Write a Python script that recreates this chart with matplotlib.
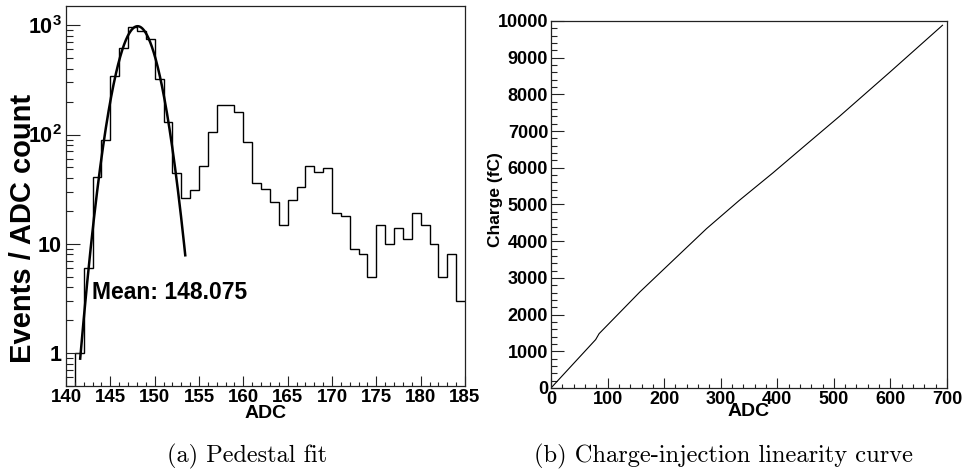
import numpy as np
import matplotlib
matplotlib.use("Agg")
import matplotlib.pyplot as plt
from matplotlib.ticker import MultipleLocator, FixedLocator, NullFormatter

plt.rcParams['font.family'] = ['Liberation Sans', 'DejaVu Sans']
plt.rcParams['font.weight'] = 'bold'
plt.rcParams['mathtext.fontset'] = 'custom'
plt.rcParams['mathtext.rm'] = 'Liberation Sans:bold'
plt.rcParams['mathtext.bf'] = 'Liberation Sans:bold'

# MARK:- pedestal histogram, one bin per ADC count (140..185)
adc_edges = np.arange(140, 186)
adc_counts = [0, 1, 6, 41, 90, 340, 625, 973, 887, 755,
              323, 130, 44, 26, 31, 52, 106, 187, 187, 160,
              86, 36, 32, 24, 15, 25, 33, 52, 45, 49,
              19, 18, 9, 8, 5, 15, 10, 14, 11, 19,
              15, 10, 5, 8, 3]

# gaussian fit of the pedestal peak
fit_amp = 980.0
fit_mean = 148.075
fit_sigma = 1.73
fit_lo, fit_hi = 141.6, 153.45

# MARK:- charge injection linearity
lin_adc = [0, 79, 85, 157, 216, 275, 333, 392, 451, 510, 600, 692]
lin_charge = [0, 1320, 1480, 2616, 3480, 4343, 5114, 5858, 6632, 7403, 8620, 9883]

W, H = 964, 471


def fx(px):
    return px / W


def fy(py):
    return 1 - py / H


def style_axes(ax):
    for s in ax.spines.values():
        s.set_linewidth(0.9)
        s.set_color('#222222')
    ax.tick_params(which='both', direction='in', top=False, right=False,
                   color='#222222', width=0.8)


fig = plt.figure(figsize=(9.64, 4.71), dpi=100)

# MARK:- left panel
ax = fig.add_axes([fx(66), fy(386), fx(465) - fx(66), fy(6) - fy(386)])
style_axes(ax)
ax.stairs(np.clip(adc_counts, 1e-3, None), adc_edges, baseline=None,
          color='black', linewidth=1.0)
xf = np.linspace(fit_lo, fit_hi, 300)
ax.plot(xf, fit_amp * np.exp(-0.5 * ((xf - fit_mean) / fit_sigma) ** 2),
        color='black', linewidth=1.8)
ax.set_yscale('log')
ax.set_xlim(140, 185)
ax.set_ylim(0.5, 1500)
ax.xaxis.set_major_locator(MultipleLocator(5))
ax.xaxis.set_minor_locator(MultipleLocator(1))
ax.yaxis.set_major_locator(FixedLocator([1, 10, 100, 1000]))
ax.yaxis.set_minor_locator(FixedLocator(
    [m * 10 ** e for e in range(-1, 4) for m in range(2, 10)]))
ax.yaxis.set_minor_formatter(NullFormatter())
ax.set_yticklabels(['1', '10', r'$\mathbf{10^{2}}$', r'$\mathbf{10^{3}}$'],
                   fontsize=15.5)
ax.tick_params(axis='x', which='major', length=7.5, pad=2.5, labelsize=13.5)
ax.tick_params(axis='x', which='minor', length=3)
ax.tick_params(axis='y', which='major', length=10, pad=3)
ax.tick_params(axis='y', which='minor', length=5)
ax.text(142.9, 3.6, 'Mean: 148.075', fontsize=16.5, fontweight='bold',
        va='center', ha='left')

fig.text(fx(23), fy(228), 'Events / ADC count', rotation=90, fontsize=21,
         ha='center', va='center')
fig.text(fx(266), fy(413), 'ADC', fontsize=14, ha='center', va='center')
fig.text(fx(247), fy(456), '(a) Pedestal fit', family='cmr10',
         fontweight='normal', fontsize=17.5, ha='center', va='center')

# MARK:- right panel
ax2 = fig.add_axes([fx(551), fy(388), fx(947) - fx(551), fy(21) - fy(388)])
style_axes(ax2)
ax2.plot(lin_adc, lin_charge, color='black', linewidth=0.8)
ax2.set_xlim(0, 700)
ax2.set_ylim(0, 10000)
ax2.xaxis.set_major_locator(MultipleLocator(100))
ax2.xaxis.set_minor_locator(MultipleLocator(20))
ax2.yaxis.set_major_locator(MultipleLocator(1000))
ax2.yaxis.set_minor_locator(MultipleLocator(200))
ax2.tick_params(axis='x', which='major', length=7.5, pad=2.5, labelsize=13)
ax2.tick_params(axis='x', which='minor', length=3)
ax2.tick_params(axis='y', which='major', length=9, pad=2, labelsize=13)
ax2.tick_params(axis='y', which='minor', length=4.5)

fig.text(fx(496), fy(200), 'Charge (fC)', rotation=90, fontsize=12.5,
         ha='center', va='center')
fig.text(fx(749), fy(412), 'ADC', fontsize=14, ha='center', va='center')
fig.text(fx(723), fy(456), '(b) Charge-injection linearity curve', family='cmr10',
         fontweight='normal', fontsize=17.6, ha='center', va='center')

fig.savefig('out.png', dpi=100)
